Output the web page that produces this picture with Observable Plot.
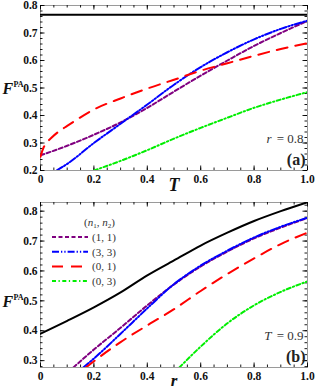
<!DOCTYPE html>
<html><head><meta charset="utf-8">
<script src="https://cdn.jsdelivr.net/npm/d3@7"></script>
<script src="https://cdn.jsdelivr.net/npm/@observablehq/plot@0.6"></script>
<style>
body{margin:0;background:#fff;}
#chart svg{display:block;}
#chart svg text{font-family:'Liberation Serif','Times New Roman',serif !important;}
</style></head><body><div id="chart"></div>
<script>
// ---------- Panel (a): r = 0.8, x = T ----------
const blackA_x = [0, 1];
const blackA_y = [0.766, 0.766];
const purpleA_x = [0, 0.1, 0.2, 0.3, 0.4, 0.5, 0.6, 0.7, 0.8, 0.9, 1.0];
const purpleA_y = [0.255, 0.290, 0.330, 0.375, 0.428, 0.487, 0.545, 0.600, 0.653, 0.700, 0.744];
const blueA_x = [0.06, 0.1, 0.2, 0.3, 0.4, 0.5, 0.6, 0.7, 0.8, 0.9, 1.0];
const blueA_y = [0.200, 0.224, 0.300, 0.370, 0.440, 0.512, 0.576, 0.630, 0.677, 0.715, 0.745];
const redA_x = [0, 0.01, 0.02, 0.04, 0.07, 0.1, 0.2, 0.3, 0.4, 0.5, 0.6, 0.7, 0.8, 0.9, 1.0];
const redA_y = [0.250, 0.280, 0.297, 0.318, 0.343, 0.362, 0.422, 0.462, 0.498, 0.530, 0.563, 0.590, 0.617, 0.642, 0.663];
const greenA_x = [0.2, 0.3, 0.4, 0.5, 0.6, 0.7, 0.8, 0.9, 1.0];
const greenA_y = [0.200, 0.235, 0.274, 0.316, 0.355, 0.392, 0.428, 0.458, 0.485];

// ---------- Panel (b): T = 0.9, x = r ----------
const blackB_x = [0, 0.1, 0.2, 0.3, 0.4, 0.5, 0.6, 0.7, 0.8, 0.9, 1.0];
const blackB_y = [0.390, 0.433, 0.478, 0.528, 0.585, 0.635, 0.685, 0.728, 0.767, 0.800, 0.830];
const purpleB_x = [0.123, 0.2, 0.3, 0.4, 0.5, 0.6, 0.7, 0.8, 0.9, 1.0];
const purpleB_y = [0.277, 0.337, 0.410, 0.485, 0.555, 0.615, 0.665, 0.709, 0.745, 0.777];
const blueB_x = [0.16, 0.2, 0.3, 0.4, 0.5, 0.6, 0.7, 0.8, 0.9, 1.0];
const blueB_y = [0.277, 0.307, 0.390, 0.475, 0.556, 0.618, 0.668, 0.712, 0.748, 0.778];
const redB_x = [0.17, 0.2, 0.3, 0.4, 0.5, 0.6, 0.7, 0.8, 0.9, 1.0];
const redB_y = [0.277, 0.298, 0.362, 0.418, 0.472, 0.533, 0.590, 0.642, 0.690, 0.728];
const greenB_x = [0.52, 0.6, 0.7, 0.8, 0.9, 1.0];
const greenB_y = [0.277, 0.347, 0.425, 0.485, 0.530, 0.565];

// ---------- labels / ticks ----------
const legendLabels = ["(1, 1)", "(3, 3)", "(0, 1)", "(0, 3)"];
const xTickValues = [0, 0.2, 0.4, 0.6, 0.8, 1.0];
const yTickValuesA = [0.2, 0.3, 0.4, 0.5, 0.6, 0.7, 0.8];
const yTickValuesB = [0.3, 0.4, 0.5, 0.6, 0.7, 0.8];

// ---------- styles ----------
const styles = {
  black:  {stroke: "#000000", dash: null},
  purple: {stroke: "#800080", dash: "4,2.5"},
  blue:   {stroke: "#0000ff", dash: "7,2,1.3,2,1.3,2"},
  red:    {stroke: "#ff0000", dash: "11,8"},
  green:  {stroke: "#00ee00", dash: "4,2.5,1.3,2.5"}
};
const legendOrder = ["purple", "blue", "red", "green"];

const W = 316, ML = 40, MR = 9;
const FONT = "'Liberation Serif', 'Times New Roman', serif";

function toRows(xs, ys) { return xs.map((x, i) => ({x, y: ys[i]})); }
const fmt = d => d === 0 ? "0" : d.toFixed(1);

function panel(o) {
  const H = o.height - o.marginTop - o.marginBottom;
  const FW = W - ML - MR;
  const xMinor = d3.range(0, 1.0001, 0.05);
  const yMinor = d3.range(0.2, 0.9001, 0.02).filter(v => v >= o.yDomain[0] - 1e-9 && v <= o.yDomain[1] + 1e-9);
  const tickLen = 4.5, minorLen = 2.5;
  const tk = {stroke: "#000", strokeWidth: 0.9};
  const marks = [
    Plot.frame({stroke: "#9a9a9a", strokeWidth: 1}),
    Plot.ruleX(xMinor, {x: d => d, insetTop: H - minorLen, ...tk}),
    Plot.ruleX(xMinor, {x: d => d, insetBottom: H - minorLen, ...tk}),
    Plot.ruleX(xTickValues, {x: d => d, insetTop: H - tickLen, ...tk}),
    Plot.ruleX(xTickValues, {x: d => d, insetBottom: H - tickLen, ...tk}),
    Plot.ruleY(yMinor, {y: d => d, insetRight: FW - minorLen, ...tk}),
    Plot.ruleY(yMinor, {y: d => d, insetLeft: FW - minorLen, ...tk}),
    Plot.ruleY(o.yTicks, {y: d => d, insetRight: FW - tickLen, ...tk}),
    Plot.ruleY(o.yTicks, {y: d => d, insetLeft: FW - tickLen, ...tk}),
    Plot.axisX(xTickValues, {tickSize: 0, tickPadding: 4, tickFormat: fmt, label: null,
      fontSize: 11.5, fontWeight: "bold", fontFamily: FONT, fill: "#111"}),
    Plot.axisY(o.yTicks, {tickSize: 0, tickPadding: 3, tickFormat: d => d.toFixed(1), label: null,
      fontSize: 11.5, fontWeight: "bold", fontFamily: FONT, fill: "#111"})
  ];
  for (const s of o.series) {
    const st = styles[s.style];
    marks.push(Plot.line(toRows(s.x, s.y), {x: "x", y: "y", curve: "monotone-x",
      stroke: st.stroke, strokeWidth: 2, strokeDasharray: st.dash, clip: true}));
  }
  marks.push(Plot.text([o.xLabel], {frameAnchor: "bottom", dy: o.xLabelDy, lineAnchor: "bottom",
    fontSize: o.xLabelSize, fontStyle: "italic", fontWeight: "bold", fontFamily: FONT, fill: "#111"}));
  marks.push(Plot.text(["F"], {frameAnchor: "left", dx: -38, dy: o.fDy, textAnchor: "start", lineAnchor: "bottom",
    fontSize: 16, fontStyle: "italic", fontWeight: "bold", fontFamily: FONT, fill: "#111"}));
  marks.push(Plot.text(["PA"], {frameAnchor: "left", dx: -27, dy: o.fDy - 7, textAnchor: "start", lineAnchor: "bottom",
    fontSize: 8, fontWeight: "bold", fontFamily: FONT, fill: "#111"}));
  marks.push(Plot.text([o.noteVar], {frameAnchor: "bottom-right", dx: -36, dy: -28, textAnchor: "end", lineAnchor: "bottom",
    fontSize: 13, fontStyle: "italic", fontFamily: FONT, fill: "#333"}));
  marks.push(Plot.text([o.noteVal], {frameAnchor: "bottom-right", dx: -4, dy: -28, textAnchor: "end", lineAnchor: "bottom",
    fontSize: 13, fontFamily: FONT, fill: "#333"}));
  marks.push(Plot.text([o.tag], {frameAnchor: "bottom-right", dx: -2, dy: -6, textAnchor: "end", lineAnchor: "bottom",
    fontSize: 16, fontWeight: "bold", fontFamily: FONT, fill: "#222"}));

  return Plot.plot({
    width: W, height: o.height,
    marginLeft: ML, marginRight: MR, marginTop: o.marginTop, marginBottom: o.marginBottom,
    x: {domain: [0, 1]},
    y: {domain: o.yDomain},
    style: {fontFamily: FONT, background: "#fff", overflow: "visible"},
    marks
  });
}

const plotA = panel({
  height: 195, marginTop: 5, marginBottom: 25, yDomain: [0.2, 0.8], yTicks: yTickValuesA,
  xLabel: "T", xLabelDy: 20, xLabelSize: 18, fDy: 5.5, noteVar: "r", noteVal: "= 0.8", tag: "(a)",
  series: [
    {style: "black", x: blackA_x, y: blackA_y},
    {style: "purple", x: purpleA_x, y: purpleA_y},
    {style: "blue", x: blueA_x, y: blueA_y},
    {style: "red", x: redA_x, y: redA_y},
    {style: "green", x: greenA_x, y: greenA_y}
  ]
});

const plotB = panel({
  height: 196, marginTop: 7, marginBottom: 24, yDomain: [0.277, 0.829], yTicks: yTickValuesB,
  xLabel: "r", xLabelDy: 18, xLabelSize: 17, fDy: 21.5, noteVar: "T", noteVal: "= 0.9", tag: "(b)",
  series: [
    {style: "black", x: blackB_x, y: blackB_y},
    {style: "purple", x: purpleB_x, y: purpleB_y},
    {style: "blue", x: blueB_x, y: blueB_y},
    {style: "red", x: redB_x, y: redB_y},
    {style: "green", x: greenB_x, y: greenB_y}
  ]
});

// legend inside panel (b)
(function addLegend(svgNode) {
  const svg = d3.select(svgNode);
  const g = svg.append("g").attr("font-family", FONT).attr("font-size", 11).attr("fill", "#333")
    .attr("text-anchor", "start");
  const head = g.append("text").attr("x", 84).attr("y", 31);
  head.append("tspan").text("(");
  head.append("tspan").attr("font-style", "italic").text("n");
  head.append("tspan").attr("font-size", 7).attr("dy", 2).text("1");
  head.append("tspan").attr("dy", -2).text(", ");
  head.append("tspan").attr("font-style", "italic").text("n");
  head.append("tspan").attr("font-size", 7).attr("dy", 2).text("2");
  head.append("tspan").attr("dy", -2).text(")");
  legendLabels.forEach((lab, i) => {
    const st = styles[legendOrder[i]];
    const y = 42 + i * 14.7;
    g.append("line").attr("x1", 52).attr("x2", 88).attr("y1", y).attr("y2", y)
      .attr("stroke", st.stroke).attr("stroke-width", 2).attr("stroke-dasharray", st.dash);
    g.append("text").attr("x", 92).attr("y", y + 4).text(lab);
  });
})(plotB);

document.getElementById("chart").append(plotA, plotB);
</script>
</body></html>
